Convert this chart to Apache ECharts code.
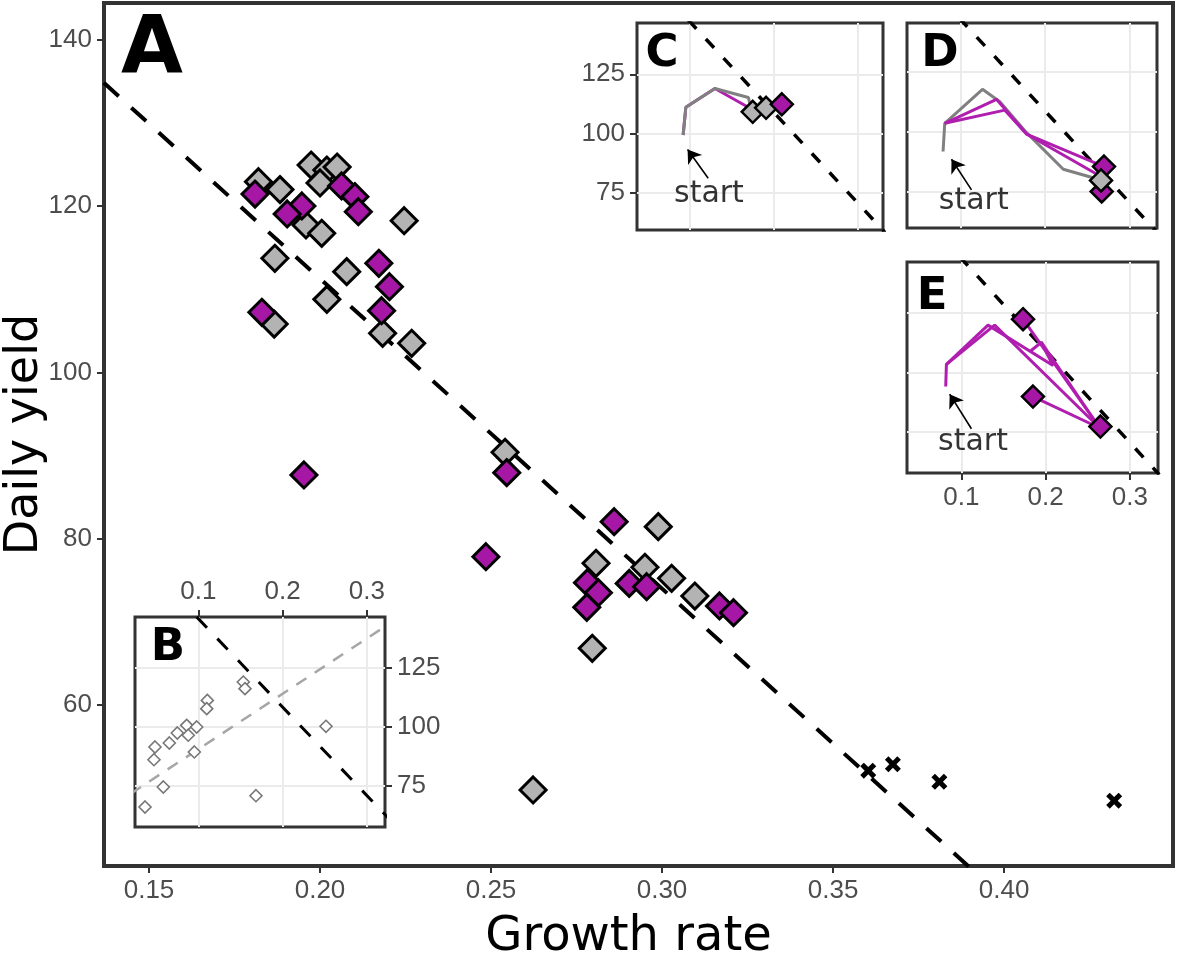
<!DOCTYPE html>
<html>
<head>
<meta charset="utf-8">
<script src="https://cdn.jsdelivr.net/npm/echarts@6/dist/echarts.min.js"></script>
<style>html,body{margin:0;padding:0;background:#fff;}#c{width:1179px;height:955px;}</style>
</head>
<body>
<div id="c"></div>
<script>
// ---------- Panel A (main) ----------
const xTicksMain = [0.15, 0.20, 0.25, 0.30, 0.35, 0.40];
const yTicksMain = [60, 80, 100, 120, 140];
const greyX = [0.1820, 0.1883, 0.1974, 0.2020, 0.2050, 0.2000, 0.1959, 0.2005, 0.2246, 0.1868, 0.2078, 0.2020, 0.1866, 0.2183, 0.2268, 0.2541, 0.2989, 0.2807, 0.2950, 0.3028, 0.3096, 0.2796, 0.2623];
const greyY = [122.95, 122.0, 124.96, 124.36, 124.72, 122.8, 117.75, 116.75, 118.26, 113.74, 112.13, 108.8, 105.83, 104.72, 103.51, 90.4, 81.45, 77.05, 76.57, 75.24, 73.11, 66.82, 49.78];
const magX = [0.1810, 0.2063, 0.2102, 0.2112, 0.1947, 0.1904, 0.2172, 0.2203, 0.2180, 0.1830, 0.1953, 0.2546, 0.2485, 0.2860, 0.2782, 0.2814, 0.2780, 0.2904, 0.2955, 0.3168, 0.3209];
const magY = [121.47, 122.44, 121.15, 119.34, 120.03, 119.07, 113.14, 110.32, 107.43, 107.24, 87.67, 87.95, 77.84, 82.05, 74.71, 73.51, 71.75, 74.63, 74.23, 71.91, 71.1];
const crossX = [0.3603, 0.3675, 0.3811, 0.4322];
const crossY = [52.1, 52.87, 50.77, 48.49];
const fitX = [0.1368, 0.392];
const fitY = [134.85, 39.7];

// ---------- Inset B ----------
const insetXTicks = [0.1, 0.2, 0.3];
const insetYTicks = [75, 100, 125];
const bPtsX = [0.1534, 0.1554, 0.1107, 0.1100, 0.0862, 0.0981, 0.0751, 0.0881, 0.0656, 0.0486, 0.0474, 0.0953, 0.2515, 0.0585, 0.1684, 0.0368];
const bPtsY = [119.1, 116.3, 111.3, 107.8, 100.7, 100.0, 97.45, 96.5, 93.2, 91.5, 86.1, 89.4, 100.3, 74.5, 70.8, 66.0];
const bBlackX = [0.098, 0.33];
const bBlackY = [146.8, 59.6];
const bGreyX = [0.02, 0.33];
const bGreyY = [71.7, 144.7];

// ---------- Inset C ----------
const cGreyX = [0.0920, 0.0952, 0.1298, 0.1696, 0.1724];
const cGreyY = [99.3, 111.0, 119.0, 115.2, 111.0];
const cMagX = [0.0920, 0.0952, 0.1298, 0.1716];
const cMagY = [99.3, 111.0, 119.0, 110.6];
const cGreyPtX = [0.1748, 0.1907];
const cGreyPtY = [109.1, 110.8];
const cMagPtX = [0.2094];
const cMagPtY = [112.3];
const cDashX = [0.098, 0.335];
const cDashY = [148.0, 57.0];
const cArrow = [[0.1218, 81.0], [0.0973, 93.2]];
const cText = [0.1227, 74.4];

// ---------- Inset D ----------
const dGreyX = [0.079, 0.081, 0.1257, 0.1463, 0.1779, 0.2214, 0.2649];
const dGreyY = [91.7, 103.5, 117.7, 112.5, 99.6, 84.3, 79.9];
const dMag1X = [0.081, 0.1423, 0.1779, 0.2696];
const dMag1Y = [103.5, 113.5, 99.0, 85.4];
const dMag2X = [0.081, 0.1522, 0.1779, 0.2649];
const dMag2Y = [103.5, 109.0, 99.0, 81.5];
const dMagPtX = [0.2669, 0.2696];
const dMagPtY = [75.0, 85.4];
const dGreyPtX = [0.2661];
const dGreyPtY = [79.6];
const dDashX = [0.098, 0.335];
const dDashY = [147.5, 57.0];
const dArrow = [[0.1127, 75.7], [0.089, 88.5]];
const dText = [0.1154, 71.1];

// ---------- Inset E ----------
const ePath1X = [0.0814, 0.0822, 0.1316, 0.2088, 0.1950, 0.1811];
const ePath1Y = [94.0, 103.3, 119.8, 102.8, 112.6, 108.6];
const ePath2X = [0.0822, 0.1395, 0.2643];
const ePath2Y = [103.3, 119.8, 76.6];
const ePath3X = [0.1732, 0.2643];
const ePath3Y = [122.3, 76.6];
const ePath4X = [0.1850, 0.2643];
const ePath4Y = [89.8, 76.6];
const ePath5X = [0.1950, 0.2643];
const ePath5Y = [112.6, 76.6];
const eMagPtX = [0.1732, 0.1850, 0.2651];
const eMagPtY = [122.3, 89.8, 77.2];
const eDashX = [0.098, 0.335];
const eDashY = [148.5, 57.0];
const eArrow = [[0.1119, 76.3], [0.0861, 90.8]];
const eText = [0.1138, 70.8];

// ---------- styling ----------
const MAG = '#a617a6';
const GREY = '#b3b3b3';
const MAGLINE = '#b01eb0';
const GREYLINE = '#808080';
const TICKFONT = 'Liberation Sans';
const TITLEFONT = 'DejaVu Sans';
const TICKSIZE = 26;

const zip = (xs, ys) => xs.map((x, i) => [x, ys[i]]);

function lineS(xs, ys, g, color, width, type, z) {
  return {type: 'line', xAxisIndex: g, yAxisIndex: g, data: zip(xs, ys), symbol: 'none',
    lineStyle: {color: color, width: width, type: type || 'solid', cap: 'butt'}, z: z, silent: true, clip: true};
}
function diamondS(xs, ys, g, fill, size, bw, z, border) {
  return {type: 'scatter', xAxisIndex: g, yAxisIndex: g, data: zip(xs, ys), symbol: 'diamond',
    symbolSize: size, itemStyle: {color: fill, borderColor: border || '#000', borderWidth: bw, opacity: 1}, z: z, silent: true};
}
function gridLinesS(g) {
  return {type: 'line', xAxisIndex: g, yAxisIndex: g, data: [], z: 4, silent: true,
    markLine: {silent: true, symbol: ['none', 'none'], label: {show: false}, animation: false,
      lineStyle: {color: '#ebebeb', width: 2, type: 'solid'},
      data: insetXTicks.map(v => ({xAxis: v})).concat(insetYTicks.map(v => ({yAxis: v})))}};
}
function arrowS(a, g) {
  return {type: 'lines', coordinateSystem: 'cartesian2d', xAxisIndex: g, yAxisIndex: g, z: 8, silent: true,
    symbol: ['none', 'arrow'], symbolSize: 13,
    lineStyle: {color: '#000', width: 1.6, opacity: 1, curveness: 0},
    data: [{coords: a}]};
}
function textS(p, g) {
  return {type: 'scatter', xAxisIndex: g, yAxisIndex: g, data: [p], symbolSize: 1, z: 8, silent: true,
    itemStyle: {color: 'transparent'},
    label: {show: true, position: 'inside', formatter: 'start', fontSize: 30, color: '#000', textBorderWidth: 0, fontFamily: TITLEFONT}};
}

function insetAxis(g, min, max, showLabels, position, ticks, fmt) {
  return {type: 'value', gridIndex: g, min: min, max: max, position: position, z: 4,
    axisLine: {show: false},
    axisTick: {show: showLabels, length: 7, inside: false, lineStyle: {color: '#333', width: 2}, customValues: ticks},
    axisLabel: {show: showLabels, customValues: ticks, formatter: fmt, fontSize: TICKSIZE, color: '#4d4d4d', fontFamily: TICKFONT, margin: 12},
    splitLine: {show: false}};
}

const f1 = v => v.toFixed(1);
const f0 = v => String(Math.round(v));

const gridBase = {show: true, borderColor: '#333', outerBoundsMode: 'none', containLabel: false};

const option = {
  animation: false,
  backgroundColor: '#fff',
  grid: [
    Object.assign({}, gridBase, {left: 104, top: 3, width: 1069, height: 863, borderWidth: 4, backgroundColor: 'transparent', z: 1}),
    Object.assign({}, gridBase, {left: 135, top: 617, width: 250, height: 210, borderWidth: 3, backgroundColor: '#fff', z: 3}),
    Object.assign({}, gridBase, {left: 637, top: 23, width: 246, height: 207, borderWidth: 3, backgroundColor: '#fff', z: 3}),
    Object.assign({}, gridBase, {left: 907, top: 23, width: 250, height: 205, borderWidth: 3, backgroundColor: '#fff', z: 3}),
    Object.assign({}, gridBase, {left: 907, top: 262, width: 251, height: 211, borderWidth: 3, backgroundColor: '#fff', z: 3})
  ],
  xAxis: [
    {type: 'value', gridIndex: 0, min: 0.13684, max: 0.4494,
      axisLine: {show: false},
      axisTick: {show: true, length: 7, lineStyle: {color: '#333', width: 2}, customValues: xTicksMain},
      axisLabel: {show: true, customValues: xTicksMain, formatter: v => v.toFixed(2), fontSize: TICKSIZE, color: '#4d4d4d', fontFamily: TICKFONT, margin: 12},
      splitLine: {show: false},
      name: 'Growth rate', nameLocation: 'middle', nameGap: 48,
      nameTextStyle: {fontSize: 48, fontFamily: TITLEFONT, color: '#000', padding: [0, 20, 0, 0]}},
    insetAxis(1, 0.0249, 0.3215, true, 'top', insetXTicks, f1),
    insetAxis(2, 0.0371, 0.3298, false, 'bottom', insetXTicks, f1),
    insetAxis(3, 0.0363, 0.3324, false, 'bottom', insetXTicks, f1),
    insetAxis(4, 0.0354, 0.3335, true, 'bottom', insetXTicks, f1)
  ],
  yAxis: [
    {type: 'value', gridIndex: 0, min: 40.63, max: 144.45,
      axisLine: {show: false},
      axisTick: {show: true, length: 7, lineStyle: {color: '#333', width: 2}, customValues: yTicksMain},
      axisLabel: {show: true, customValues: yTicksMain, formatter: f0, fontSize: TICKSIZE, color: '#4d4d4d', fontFamily: TICKFONT, margin: 12},
      splitLine: {show: false},
      name: 'Daily yield', nameLocation: 'middle', nameGap: 56, nameRotate: 90, nameMoveOverlap: false,
      nameTextStyle: {fontSize: 46, fontFamily: TITLEFONT, color: '#000'}},
    insetAxis(1, 57.5, 146.75, true, 'right', insetYTicks, f0),
    insetAxis(2, 59.1, 146.7, true, 'left', insetYTicks, f0),
    insetAxis(3, 59.75, 145.4, false, 'left', insetYTicks, f0),
    insetAxis(4, 57.7, 146.3, false, 'left', insetYTicks, f0)
  ],
  series: [
    // main
    lineS(fitX, fitY, 0, '#000', 4, [20, 17], 2),
    diamondS(greyX, greyY, 0, GREY, 26, 3, 3),
    diamondS(magX, magY, 0, MAG, 26, 3, 3),
    {type: 'scatter', xAxisIndex: 0, yAxisIndex: 0, data: zip(crossX, crossY),
      symbol: 'path://M0,4L4,0L9,5L14,0L18,4L13,9L18,14L14,18L9,13L4,18L0,14L5,9Z',
      symbolSize: 16, itemStyle: {color: '#000', borderColor: '#000', borderWidth: 0, opacity: 1}, z: 3, silent: true},
    // B
    gridLinesS(1),
    lineS(bGreyX, bGreyY, 1, '#a6a6a6', 2.5, [12, 10], 5),
    lineS(bBlackX, bBlackY, 1, '#000', 3, [15, 15], 5),
    diamondS(bPtsX, bPtsY, 1, '#fff', 12, 1.6, 6, '#777'),
    // C
    gridLinesS(2),
    lineS(cDashX, cDashY, 2, '#000', 3.5, [12, 14], 5),
    lineS(cMagX, cMagY, 2, MAGLINE, 3, 'solid', 5),
    lineS(cGreyX, cGreyY, 2, GREYLINE, 3, 'solid', 5),
    diamondS(cGreyPtX, cGreyPtY, 2, GREY, 22, 2.5, 6),
    diamondS(cMagPtX, cMagPtY, 2, MAG, 22, 2.5, 6),
    arrowS(cArrow, 2),
    textS(cText, 2),
    // D
    gridLinesS(3),
    lineS(dDashX, dDashY, 3, '#000', 3.5, [12, 14], 5),
    lineS(dGreyX, dGreyY, 3, GREYLINE, 3, 'solid', 5),
    lineS(dMag1X, dMag1Y, 3, MAGLINE, 3, 'solid', 5),
    lineS(dMag2X, dMag2Y, 3, MAGLINE, 3, 'solid', 5),
    diamondS(dMagPtX, dMagPtY, 3, MAG, 22, 2.5, 6),
    diamondS(dGreyPtX, dGreyPtY, 3, GREY, 22, 2.5, 6),
    arrowS(dArrow, 3),
    textS(dText, 3),
    // E
    gridLinesS(4),
    lineS(eDashX, eDashY, 4, '#000', 3.5, [12, 14], 5),
    lineS(ePath1X, ePath1Y, 4, MAGLINE, 3, 'solid', 5),
    lineS(ePath2X, ePath2Y, 4, MAGLINE, 3, 'solid', 5),
    lineS(ePath3X, ePath3Y, 4, MAGLINE, 3, 'solid', 5),
    lineS(ePath4X, ePath4Y, 4, MAGLINE, 3, 'solid', 5),
    lineS(ePath5X, ePath5Y, 4, MAGLINE, 3, 'solid', 5),
    diamondS(eMagPtX, eMagPtY, 4, MAG, 22, 2.5, 6),
    arrowS(eArrow, 4),
    textS(eText, 4)
  ],
  graphic: [
    {type: 'text', z: 20, style: {text: 'A', x: 152, y: 52, fontSize: 80, fontWeight: 'bold', fontFamily: TITLEFONT, fill: '#000', align: 'center', verticalAlign: 'middle'}},
    {type: 'text', z: 20, style: {text: 'B', x: 168, y: 648, fontSize: 45, fontWeight: 'bold', fontFamily: TITLEFONT, fill: '#000', align: 'center', verticalAlign: 'middle'}},
    {type: 'text', z: 20, style: {text: 'C', x: 662, y: 54, fontSize: 45, fontWeight: 'bold', fontFamily: TITLEFONT, fill: '#000', align: 'center', verticalAlign: 'middle'}},
    {type: 'text', z: 20, style: {text: 'D', x: 940, y: 54, fontSize: 45, fontWeight: 'bold', fontFamily: TITLEFONT, fill: '#000', align: 'center', verticalAlign: 'middle'}},
    {type: 'text', z: 20, style: {text: 'E', x: 932, y: 297, fontSize: 45, fontWeight: 'bold', fontFamily: TITLEFONT, fill: '#000', align: 'center', verticalAlign: 'middle'}}
  ]
};

const chart = echarts.init(document.getElementById('c'), null, {renderer: 'canvas'});
chart.setOption(option);
</script>
</body>
</html>
